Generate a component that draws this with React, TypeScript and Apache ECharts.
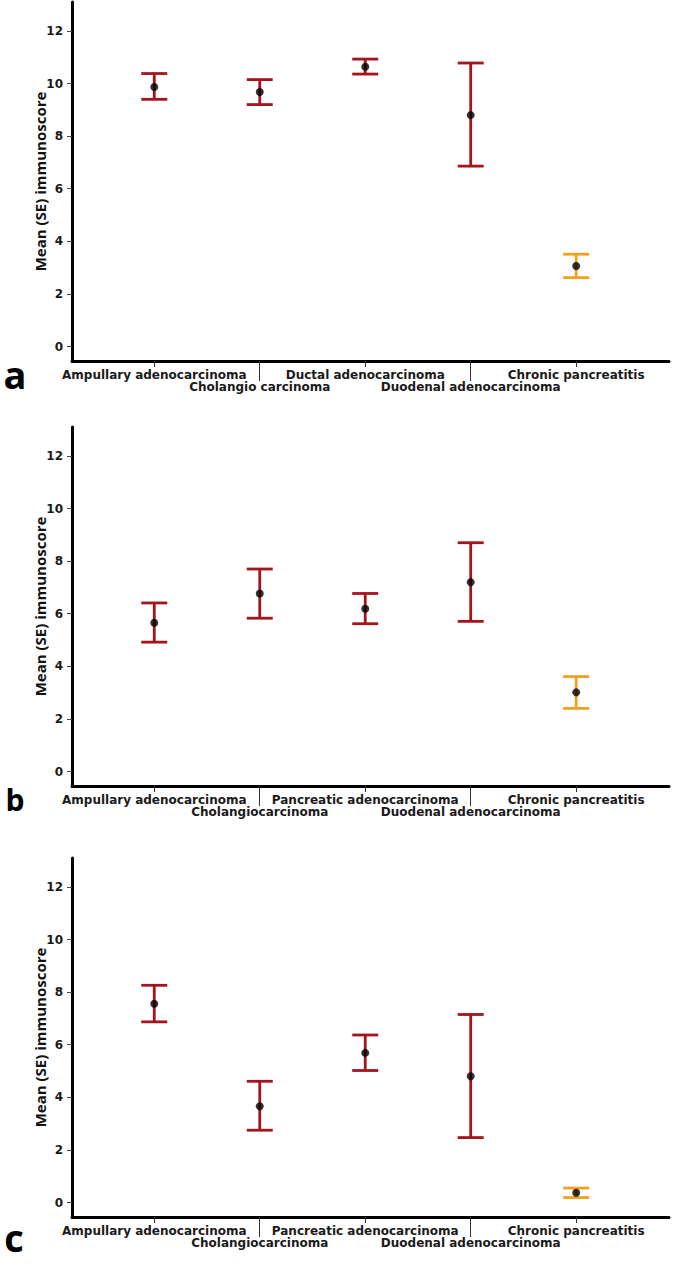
import React, { useEffect, useRef } from "react";
import * as echarts from "echarts";

// ---------- data ----------
const categoriesA = [
  "Ampullary adenocarcinoma",
  "Cholangio carcinoma",
  "Ductal adenocarcinoma",
  "Duodenal adenocarcinoma",
  "Chronic pancreatitis",
];
const categoriesBC = [
  "Ampullary adenocarcinoma",
  "Cholangiocarcinoma",
  "Pancreatic adenocarcinoma",
  "Duodenal adenocarcinoma",
  "Chronic pancreatitis",
];
const positions = [1, 2, 3, 4, 5];

const meanA = [9.87, 9.68, 10.64, 8.8, 3.06];
const lowerA = [9.4, 9.2, 10.36, 6.86, 2.62];
const upperA = [10.38, 10.15, 10.93, 10.78, 3.51];

const meanB = [5.66, 6.77, 6.19, 7.2, 3.01];
const lowerB = [4.92, 5.83, 5.62, 5.71, 2.4];
const upperB = [6.41, 7.7, 6.77, 8.7, 3.61];

const meanC = [7.56, 3.66, 5.69, 4.8, 0.37];
const lowerC = [6.87, 2.75, 5.02, 2.47, 0.19];
const upperC = [8.26, 4.61, 6.37, 7.15, 0.55];

const yTicks = [0, 2, 4, 6, 8, 10, 12];
const panelLetters = ["a", "b", "c"];
const yAxisTitle = "Mean (SE) immunoscore";

// ---------- styling ----------
const RED = "#a3141f";
const ORANGE = "#f2a11f";
const groupColors = [RED, RED, RED, RED, ORANGE];

const W = 685;
const H = 1271;
const gridTops = [2, 427, 858];
const gridH = 359;
const gridLeft = 72;
const gridW = 597;
const letterPos = [
  [15, 374],
  [15, 799],
  [14, 1237],
];
const letterSize = [38, 30, 38];

const panels = [
  { cats: categoriesA, mean: meanA, lower: lowerA, upper: upperA },
  { cats: categoriesBC, mean: meanB, lower: lowerB, upper: upperB },
  { cats: categoriesBC, mean: meanC, lower: lowerC, upper: upperC },
];

const labelFont = {
  fontFamily: "DejaVu Sans",
  fontWeight: "bold" as const,
  fontSize: 12,
  color: "#1a1a1a",
};

function buildOption() {
  const grid: any[] = [];
  const xAxis: any[] = [];
  const yAxis: any[] = [];
  const series: any[] = [];
  const graphic: any[] = [];

  panels.forEach((p, i) => {
    grid.push({ left: gridLeft, top: gridTops[i], width: gridW, height: gridH });
    const xBase = {
      gridIndex: i,
      type: "value",
      position: "bottom",
      min: 0.22,
      max: 5.88,
      splitLine: { show: false },
    };
    // first row labels + short ticks (1,3,5)
    xAxis.push({
      ...xBase,
      axisLine: { show: true, onZero: false, lineStyle: { color: "#000", width: 3 } },
      axisTick: {
        show: true,
        customValues: [1, 3, 5],
        length: 6,
        lineStyle: { color: "#333", width: 1 },
      },
      axisLabel: {
        show: true,
        customValues: [1, 3, 5],
        formatter: (v: number) => p.cats[Math.round(v) - 1] ?? "",
        margin: 8,
        ...labelFont,
      },
    });
    // second row labels + long ticks (2,4)
    xAxis.push({
      ...xBase,
      axisLine: { show: false, onZero: false },
      axisTick: {
        show: true,
        customValues: [2, 4],
        length: 20,
        lineStyle: { color: "#333", width: 1 },
      },
      axisLabel: {
        show: true,
        customValues: [2, 4],
        formatter: (v: number) => p.cats[Math.round(v) - 1] ?? "",
        margin: 20,
        ...labelFont,
      },
    });
    yAxis.push({
      gridIndex: i,
      type: "value",
      min: -0.55,
      max: 13.1,
      splitLine: { show: false },
      axisLine: { show: true, onZero: false, lineStyle: { color: "#000", width: 3 } },
      axisTick: {
        show: true,
        customValues: yTicks,
        length: 5,
        lineStyle: { color: "#444", width: 1 },
      },
      axisLabel: {
        show: true,
        customValues: yTicks,
        margin: 9,
        ...labelFont,
      },
      name: yAxisTitle,
      nameLocation: "middle",
      nameGap: 25,
      nameMoveOverlap: false,
      nameTextStyle: {
        fontFamily: "Open Sans",
        fontWeight: "bold",
        fontSize: 15,
        color: "#111",
      },
    });

    series.push({
      type: "custom",
      xAxisIndex: i * 2,
      yAxisIndex: i,
      z: 2,
      data: positions.map((x, k) => ({
        value: [x, p.lower[k], p.upper[k]],
        itemStyle: { color: groupColors[k] },
      })),
      renderItem: (params: any, api: any) => {
        const x = api.value(0);
        const lo = api.coord([x, api.value(1)]);
        const hi = api.coord([x, api.value(2)]);
        const color = api.visual("color");
        const half = 13;
        const st = { stroke: color, lineWidth: 2.8 };
        return {
          type: "group",
          children: [
            { type: "line", shape: { x1: hi[0], y1: hi[1], x2: lo[0], y2: lo[1] }, style: st },
            { type: "line", shape: { x1: hi[0] - half, y1: hi[1], x2: hi[0] + half, y2: hi[1] }, style: st },
            { type: "line", shape: { x1: lo[0] - half, y1: lo[1], x2: lo[0] + half, y2: lo[1] }, style: st },
          ],
        };
      },
    });
    series.push({
      type: "scatter",
      xAxisIndex: i * 2,
      yAxisIndex: i,
      z: 3,
      symbol: "circle",
      symbolSize: 8,
      itemStyle: { color: "#000" },
      data: positions.map((x, k) => [x, p.mean[k]]),
    });

    graphic.push({
      type: "text",
      x: letterPos[i][0],
      y: letterPos[i][1],
      style: {
        text: panelLetters[i],
        fontFamily: "Open Sans",
        fontWeight: "bold",
        fontSize: letterSize[i],
        fill: "#000",
        align: "center",
        verticalAlign: "middle",
      },
    });
  });

  return {
    animation: false,
    backgroundColor: "#fff",
    grid,
    xAxis,
    yAxis,
    series,
    graphic,
  };
}

export default function App() {
  const ref = useRef<HTMLDivElement>(null);
  useEffect(() => {
    if (!ref.current) return;
    const chart = echarts.init(ref.current, null, { renderer: "svg" });
    chart.setOption(buildOption() as any);
    return () => chart.dispose();
  }, []);
  return (
    <div
      ref={ref}
      style={{ position: "absolute", left: 0, top: 0, width: W, height: H, background: "#fff" }}
    />
  );
}
